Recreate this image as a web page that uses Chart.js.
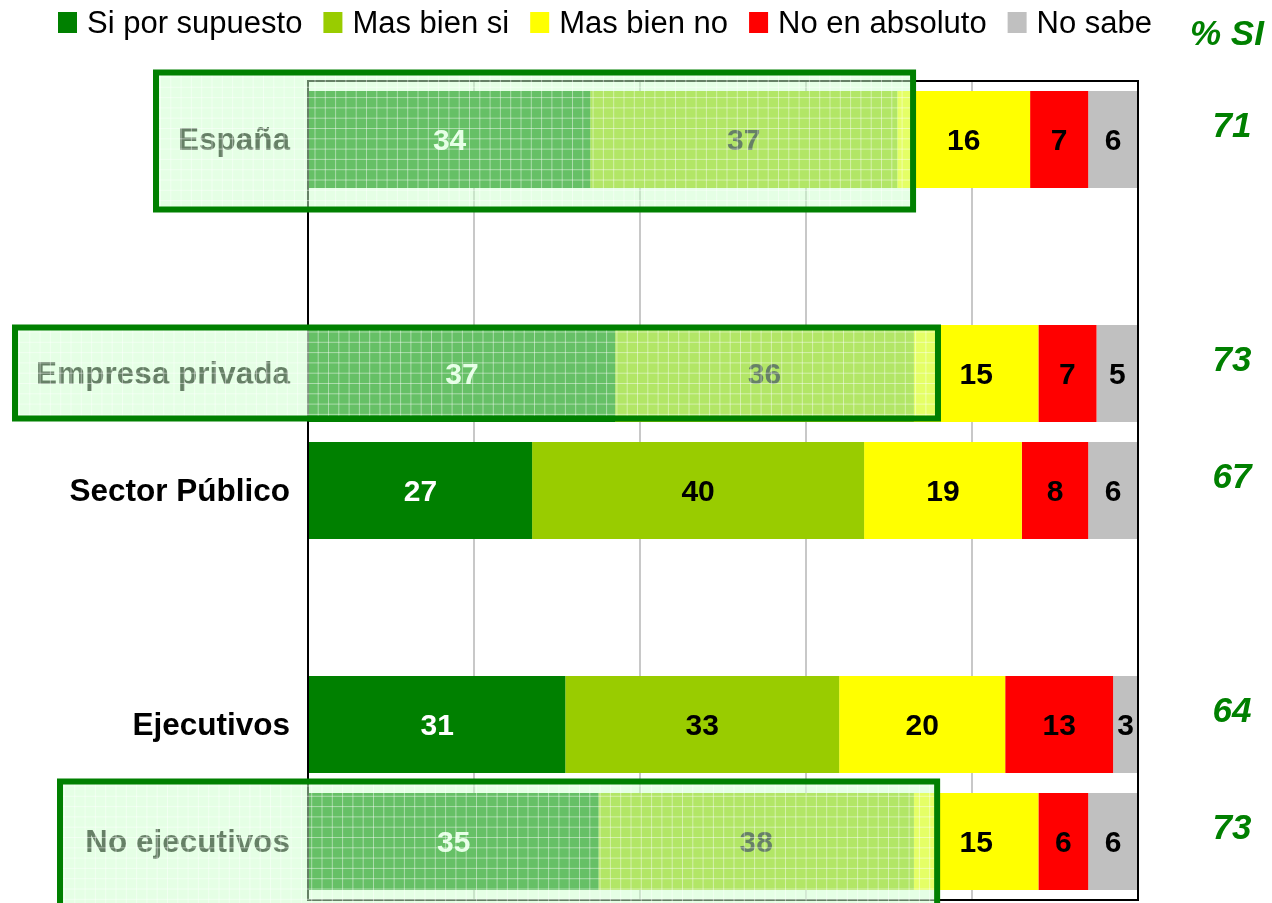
<!DOCTYPE html>
<html>
<head>
<meta charset="utf-8">
<script src="https://cdn.jsdelivr.net/npm/chart.js@4.4.1/dist/chart.umd.min.js"></script>
<style>
  html, body { margin: 0; padding: 0; background: #fff; }
  #wrap { width: 1272px; height: 903px; }
</style>
</head>
<body>
<div id="wrap"><canvas id="chart" width="1272" height="903"></canvas></div>
<script>
// Data
const categories = ["España", "", "Empresa privada", "Sector Público", "", "Ejecutivos", "No ejecutivos"]
const siPorSupuesto = [34, null, 37, 27, null, 31, 35]
const masBienSi = [37, null, 36, 40, null, 33, 38]
const masBienNo = [16, null, 15, 19, null, 20, 15]
const noEnAbsoluto = [7, null, 7, 8, null, 13, 6]
const noSabe = [6, null, 5, 6, null, 3, 6]
const pctSi = [71, null, 73, 67, null, 64, 73]

const FONT = "'Liberation Sans', Arial, sans-serif"
const GREEN = "#008000"

// Highlight boxes (annotation): row, left edge px, right edge as % value, offsets from row centre
const highlights = [
  { row: 0, left: 156, right: 72.9, up: 67, down: 70 },
  { row: 2, left: 15, right: 75.9, up: 46, down: 45 },
  { row: 6, left: 60, right: 75.8, up: 60, down: 80 },
]

// Legend drawn at the top
const legendPlugin = {
  id: "topLegend",
  afterDraw(chart) {
    const ctx = chart.ctx
    ctx.save()
    ctx.font = "31px " + FONT
    ctx.textBaseline = "alphabetic"
    let x = 58
    chart.data.datasets.forEach((ds) => {
      ctx.fillStyle = ds.backgroundColor
      ctx.fillRect(x, 12, 19, 21)
      ctx.fillStyle = "#000"
      ctx.fillText(ds.label, x + 29, 33)
      x += 29 + ctx.measureText(ds.label).width + 21
    })
    ctx.font = "italic bold 35px " + FONT
    ctx.fillStyle = GREEN
    ctx.fillText("% SI", 1190, 45)
    ctx.restore()
  },
}

// Values inside segments, % SI column, plot frame
const labelsPlugin = {
  id: "valueLabels",
  afterDatasetsDraw(chart) {
    const ctx = chart.ctx
    const area = chart.chartArea
    ctx.save()
    ctx.font = "bold 30px " + FONT
    ctx.textAlign = "center"
    ctx.textBaseline = "middle"
    chart.data.datasets.forEach((ds, i) => {
      const meta = chart.getDatasetMeta(i)
      meta.data.forEach((bar, j) => {
        const v = ds.data[j]
        if (v == null) return
        ctx.fillStyle = i === 0 ? "#fff" : "#000"
        ctx.fillText(String(v), (bar.x + bar.base) / 2, bar.y + 2)
      })
    })

    // plot frame
    ctx.strokeStyle = "#000"
    ctx.lineWidth = 2
    ctx.strokeRect(area.left, area.top, area.right - area.left, area.bottom - area.top)

    // % SI column
    const y = chart.scales.y
    ctx.font = "italic bold 35px " + FONT
    ctx.fillStyle = GREEN
    pctSi.forEach((v, j) => {
      if (v == null) return
      ctx.fillText(String(v), 1232, y.getPixelForValue(j) - 12)
    })
    ctx.restore()
  },
}

// Highlight overlays, drawn last
const highlightPlugin = {
  id: "highlights",
  afterDraw(chart) {
    const ctx = chart.ctx
    const x = chart.scales.x
    const y = chart.scales.y
    highlights.forEach((h) => {
      const cy = y.getPixelForValue(h.row)
      const left = h.left
      const right = x.getPixelForValue(h.right)
      const top = cy - h.up
      const bottom = cy + h.down
      ctx.save()
      ctx.fillStyle = "rgba(204, 255, 204, 0.5)"
      ctx.fillRect(left, top, right - left, bottom - top)
      // mesh pattern
      ctx.beginPath()
      ctx.rect(left, top, right - left, bottom - top)
      ctx.clip()
      ctx.strokeStyle = "rgba(255, 255, 255, 0.45)"
      ctx.lineWidth = 1
      ctx.beginPath()
      for (let gx = left + 4.5; gx < right; gx += 10.3) {
        ctx.moveTo(gx, top)
        ctx.lineTo(gx, bottom)
      }
      for (let gy = top + 4.5; gy < bottom; gy += 10.3) {
        ctx.moveTo(left, gy)
        ctx.lineTo(right, gy)
      }
      ctx.stroke()
      ctx.restore()
      ctx.save()
      ctx.strokeStyle = GREEN
      ctx.lineWidth = 6
      ctx.strokeRect(left, top, right - left, bottom - top)
      ctx.restore()
    })
  },
}

const makeSet = (label, data, color) => ({
  label,
  data,
  backgroundColor: color,
  borderWidth: 0,
  barPercentage: 0.83,
  categoryPercentage: 1,
})

new Chart(document.getElementById("chart"), {
  type: "bar",
  data: {
    labels: categories,
    datasets: [
      makeSet("Si por supuesto", siPorSupuesto, "#008000"),
      makeSet("Mas bien si", masBienSi, "#99cc00"),
      makeSet("Mas bien no", masBienNo, "#ffff00"),
      makeSet("No en absoluto", noEnAbsoluto, "#ff0000"),
      makeSet("No sabe", noSabe, "#c0c0c0"),
    ],
  },
  options: {
    indexAxis: "y",
    responsive: false,
    animation: false,
    layout: { autoPadding: false, padding: { top: 81, right: 134, bottom: 3, left: 0 } },
    plugins: {
      legend: { display: false },
      tooltip: { enabled: false },
    },
    scales: {
      x: {
        stacked: true,
        min: 0,
        max: 100,
        ticks: { display: false, stepSize: 20 },
        border: { display: false },
        grid: {
          drawTicks: false,
          lineWidth: 2,
          color: (c) => (c.tick && c.tick.value > 0 && c.tick.value < 100 ? "#c8c8c8" : "rgba(0,0,0,0)"),
        },
        afterFit: (s) => { s.height = 0 },
      },
      y: {
        stacked: true,
        border: { display: false },
        grid: { display: false, drawTicks: false },
        ticks: {
          padding: 18,
          labelOffset: 2,
          color: "#000",
          font: { family: FONT, size: 31.5, weight: "bold" },
        },
        // fixed width, and no extra room for the edge labels
        afterFit: (s) => {
          s.width = 308
          s.paddingTop = 0
          s.paddingBottom = 0
        },
      },
    },
  },
  plugins: [labelsPlugin, legendPlugin, highlightPlugin],
})
</script>
</body>
</html>
